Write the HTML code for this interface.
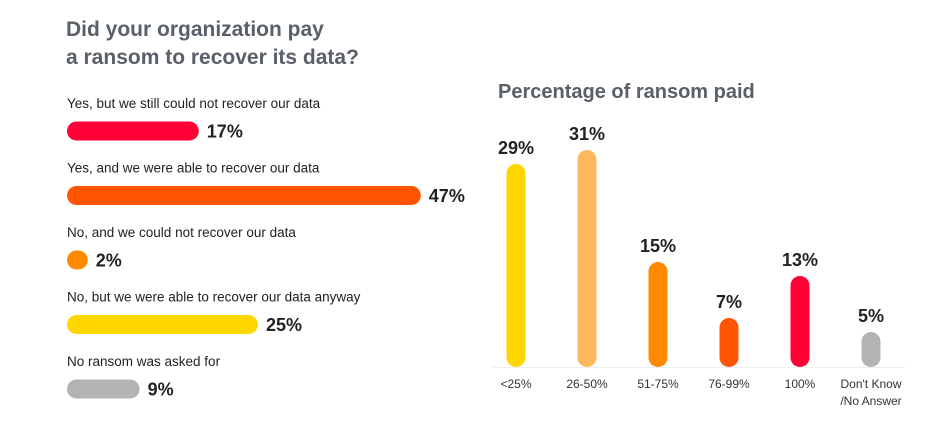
<!DOCTYPE html>
<html><head><meta charset="utf-8"><style>
body{margin:0;width:944px;height:438px;background:#fff;font-family:"Liberation Sans",sans-serif;overflow:hidden;position:relative}
.t{position:absolute;color:#5a6068;font-weight:bold}
</style></head><body>
<div class="t" style="left:66px;top:16px;font-size:21px;line-height:28px">Did your organization pay<br>a ransom to recover its data?</div>
<div class="t" style="left:498px;top:81px;font-size:20px">Percentage of ransom paid</div>
<svg id="c" width="944" height="438" style="position:absolute;left:0;top:0"></svg>
<script>
const leftCats=["Yes, but we still could not recover our data","Yes, and we were able to recover our data","No, and we could not recover our data","No, but we were able to recover our data anyway","No ransom was asked for"];
const leftVals=[17,47,2,25,9];
const leftColors=["#ff0037","#ff5500","#ff8a00","#ffd700","#b3b3b3"];
const rightCats=[["<25%"],["26-50%"],["51-75%"],["76-99%"],["100%"],["Don't Know","/No Answer"]];
const rightVals=[29,31,15,7,13,5];
const rightColors=["#ffd600","#ffb85c","#ff8a00","#ff5500","#ff0037","#b3b3b3"];
const NS="http://www.w3.org/2000/svg";
const svg=document.getElementById('c');
function mk(t,a){const e=document.createElementNS(NS,t);for(const k in a)e.setAttribute(k,a[k]);svg.appendChild(e);return e;}
const lx=v=>Math.max(18,v*7.4+6);
leftCats.forEach((c,i)=>{
 const y=131+i*64.5;
 const lab=mk('text',{x:67,y:y-23,'font-size':13.5,fill:'#222'});lab.textContent=c;
 
 
 const w=lx(leftVals[i]);
 const r=mk('rect',{x:67,y:y-9.5,width:w,height:19,rx:9.5,fill:leftColors[i]});
 
 
 const v=mk('text',{x:67+w+8,y:y+6.5,'font-size':18,'font-weight':'bold',fill:'#222'});v.textContent=leftVals[i]+'%';
 
 
});
const base=367,bx=i=>516+i*71,by=v=>v*7.0;
const ax=mk('line',{x1:493,x2:905,y1:base+0.5,y2:base+0.5,stroke:'#eee','stroke-width':1});


rightVals.forEach((v,i)=>{
 const h=by(v),x=bx(i);
 const r=mk('rect',{x:x-9.5,y:base-h,width:19,height:h,rx:9.5,fill:rightColors[i]});
 
 
 const t=mk('text',{x:x,y:base-h-10,'font-size':18,'font-weight':'bold',fill:'#222','text-anchor':'middle'});t.textContent=v+'%';
 
 
 rightCats[i].forEach((s,j)=>{
  const l=mk('text',{x:x,y:388+j*17,'font-size':12,fill:'#333','text-anchor':'middle'});l.textContent=s;
  
  
 });
});
</script>
</body></html>
